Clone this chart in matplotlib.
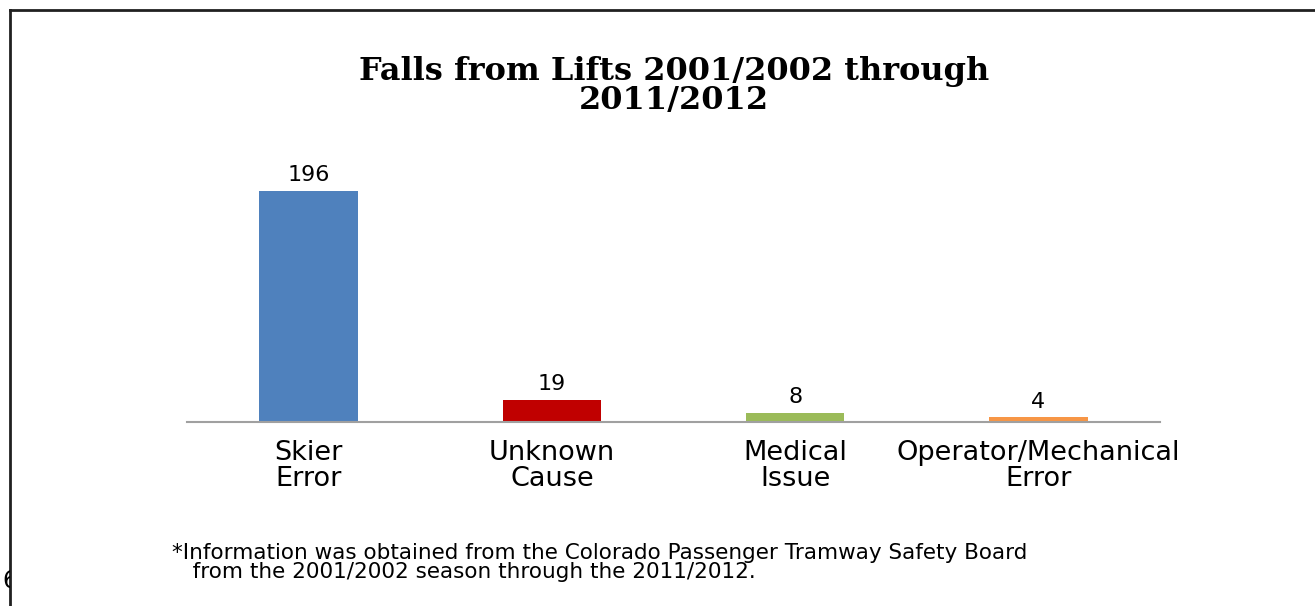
import matplotlib
matplotlib.use('Agg')

import matplotlib.pyplot as plt
from matplotlib.lines import Line2D
from matplotlib.transforms import Bbox, TransformedBbox

# data
categories = ["Skier\nError", "Unknown\nCause", "Medical\nIssue", "Operator/Mechanical\nError"]
falls = [196, 19, 8, 4]
bar_colors = ["#4F81BD", "#C00000", "#9BBB59", "#F79646"]

title = "Falls from Lifts 2001/2002 through\n2011/2012"
footnote = ("*Information was obtained from the Colorado Passenger Tramway Safety Board\n"
            "   from the 2001/2002 season through the 2011/2012.")
page_number = "6"

W, H = 1315, 606
fig = plt.figure(figsize=(W / 100, H / 100), dpi=100)
fig.patch.set_facecolor("white")

# plot area in pixel units (left, bottom from top, right)
left, base, right = 187, 422, 1160
ymax = 200
px_per_unit = 231 / 196
top = base - ymax * px_per_unit
ax = fig.add_axes([left / W, 1 - base / H, (right - left) / W, (base - top) / H])

x = list(range(len(categories)))
ax.bar(x, falls, width=0.405, color=bar_colors, zorder=2)
ax.set_xlim(-0.5, len(categories) - 0.5)
ax.set_ylim(0, ymax)

for xi, v in zip(x, falls):
    ax.annotate(str(v), (xi, v), xytext=(0, 4), textcoords="offset points",
                ha="center", va="bottom", fontsize=16, family="DejaVu Sans")

for s in ("top", "right", "left"):
    ax.spines[s].set_visible(False)
ax.spines["bottom"].set_color("#A0A0A0")
ax.spines["bottom"].set_linewidth(1.5)
ax.set_yticks([])
ax.set_xticks(x)
ax.set_xticklabels(categories, fontsize=19.5, family="DejaVu Sans", linespacing=0.98)
ax.tick_params(axis="x", length=0, pad=13)
ax.patch.set_visible(False)

fig.text(674 / W, 1 - 86 / H, title, ha="center", va="center",
         fontsize=23, fontweight="bold", family="DejaVu Serif", linespacing=0.95)

fig.text(172 / W, 1 - 562.5 / H, footnote, ha="left", va="center",
         fontsize=15.5, family="DejaVu Sans", linespacing=0.93)

# slide border, top and left only
fig.add_artist(Line2D([10 / W, 1], [1 - 10 / H, 1 - 10 / H], transform=fig.transFigure,
                      color="#202020", linewidth=2))
fig.add_artist(Line2D([10 / W, 10 / W], [0, 1 - 10 / H], transform=fig.transFigure,
                      color="#202020", linewidth=2))

# page number, mostly cut off by the border
pn = fig.text(2 / W, 1 - 581 / H, page_number, ha="left", va="center", fontsize=17,
              family="DejaVu Sans")
pn.set_clip_box(TransformedBbox(Bbox([[0, 0], [10 / W, 1]]), fig.transFigure))
pn.set_clip_on(True)

fig.savefig("out.png", dpi=100)
plt.close(fig)
